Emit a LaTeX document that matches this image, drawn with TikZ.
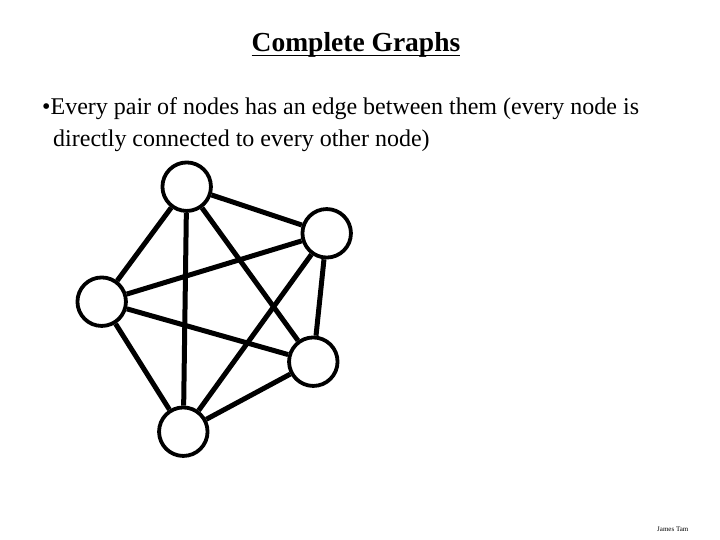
\documentclass[tikz,border=0pt]{standalone}
\usepackage{fontspec}
\setmainfont{Liberation Serif}
\usetikzlibrary{positioning}

\begin{document}
\begin{tikzpicture}[x=1pt,y=-1pt,
vtx/.style={draw,circle,line width=3.8pt,minimum size=48.5pt,inner sep=0pt},
edg/.style={line width=5pt},
txt/.style={inner sep=0pt,anchor=base west}]
\useasboundingbox (0,0) rectangle (720,540);
\node[inner sep=0pt,anchor=base,font=\fontsize{27.5}{32}\selectfont\bfseries] (title) at (356,52) {Complete Graphs};
\draw[line width=1.6pt] ([yshift=-3.5pt]title.base west) -- ([yshift=-3.5pt]title.base east);
\node[txt,align=left,font=\fontsize{24}{32}\selectfont] (point) at (42,147) {\textbullet Every pair of nodes has an edge between them (every node is\\\hspace*{11pt}directly connected to every other node)};
\node[vtx] (top) at (186.7,186.7) {};
\node[vtx] (rtop) at (326.7,233.3) {};
\node[vtx] (left) at (101.7,301.7) {};
\node[vtx] (rbot) at (313.3,361.7) {};
\node[vtx] (bot) at (183.3,431.7) {};
\draw[edg] (top) -- (rtop);
\draw[edg] (top) -- (left);
\draw[edg] (top) -- (rbot);
\draw[edg] (top) -- (bot);
\draw[edg] (rtop) -- (left);
\draw[edg] (rtop) -- (rbot);
\draw[edg] (rtop) -- (bot);
\draw[edg] (left) -- (rbot);
\draw[edg] (left) -- (bot);
\draw[edg] (rbot) -- (bot);
\node[txt,font=\fontsize{7}{8}\selectfont] (author) at (657,531) {James Tam};
\end{tikzpicture}
\end{document}
